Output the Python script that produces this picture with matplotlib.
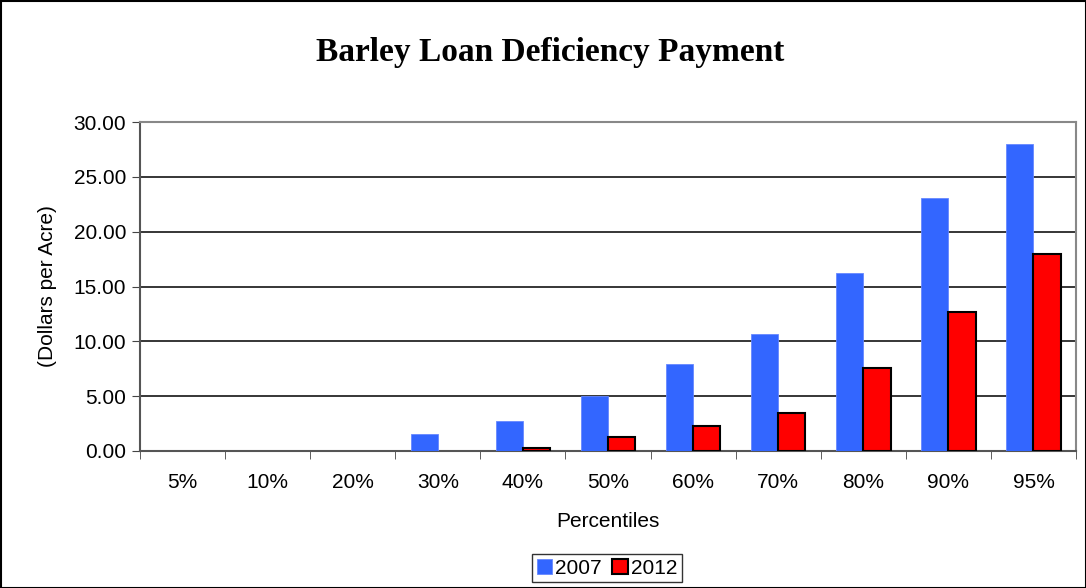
import matplotlib
matplotlib.use("Agg")
import matplotlib.pyplot as plt
import numpy as np
from matplotlib.patches import Rectangle

categories = ["5%", "10%", "20%", "30%", "40%", "50%", "60%", "70%", "80%", "90%", "95%"]
series_2007 = [0, 0, 0, 1.58, 2.75, 5.0, 7.9, 10.65, 16.25, 23.1, 28.0]
series_2012 = [0, 0, 0, 0, 0.25, 1.28, 2.25, 3.47, 7.55, 12.7, 17.95]
yticks = [0, 5, 10, 15, 20, 25, 30]

plt.rcParams['font.family'] = ['Liberation Sans', 'DejaVu Sans']

fig = plt.figure(figsize=(10.86, 5.88), dpi=100)
W, H = 1086, 588
ax = fig.add_axes([140 / W, 1 - 451 / H, (1076 - 140) / W, (451 - 122) / H])

x = np.arange(len(categories))
bw = 0.32
v07 = [v if v > 0 else np.nan for v in series_2007]
v12 = [v if v > 0 else np.nan for v in series_2012]
ax.bar(x - bw / 2, v07, width=bw, color="#3366FF", edgecolor="#6688FF", linewidth=0.6, label="2007", zorder=3)
ax.bar(x + bw / 2, v12, width=bw, color="#FF0000", edgecolor="black", linewidth=1.5, label="2012", zorder=3)

fs = 15
ax.set_xlim(-0.5, len(categories) - 0.5)
ax.set_ylim(0, 30)
ax.set_yticks(yticks)
ax.set_yticklabels([f"{v:.2f}" for v in yticks], fontsize=fs)
ax.set_xticks(x)
ax.set_xticklabels(categories, fontsize=fs)
ax.tick_params(axis='x', length=0, pad=16)
ax.set_xticks(np.arange(-0.5, len(categories)), minor=True)
ax.tick_params(axis='x', which='minor', length=6, direction='out', color='#444444')
ax.tick_params(axis='y', length=6, direction='out', color='#444444', pad=4)
ax.yaxis.grid(True, color="black", linewidth=1.1, zorder=0)
ax.set_axisbelow(True)
for s in ['top', 'right']:
    ax.spines[s].set_color('#888888')
for s in ['left', 'bottom']:
    ax.spines[s].set_color('#555555')
for s in ax.spines.values():
    s.set_linewidth(1.5)

ax.set_xlabel("Percentiles", fontsize=fs, labelpad=14)
ax.set_ylabel("(Dollars per Acre)", fontsize=fs, labelpad=12)

fig.text(550 / W, 1 - 52 / H, "Barley Loan Deficiency Payment", ha='center', va='center',
         fontsize=24, fontweight='bold', family=['Liberation Serif', 'DejaVu Serif'])

leg = fig.legend(loc='center', bbox_to_anchor=(607 / W, 1 - 568 / H), ncol=2, fontsize=fs,
                 frameon=True, fancybox=False, edgecolor='black', handlelength=0.75, handleheight=0.75,
                 handletextpad=0.15, columnspacing=0.5, borderpad=0.2, borderaxespad=0)
leg.get_frame().set_linewidth(1.0)

fig.patches.append(Rectangle((0.5 / W, 0.5 / H), 1 - 1 / W, 1 - 1 / H, transform=fig.transFigure,
                             fill=False, edgecolor='black', linewidth=1.5))

fig.savefig("out.png", dpi=100)
